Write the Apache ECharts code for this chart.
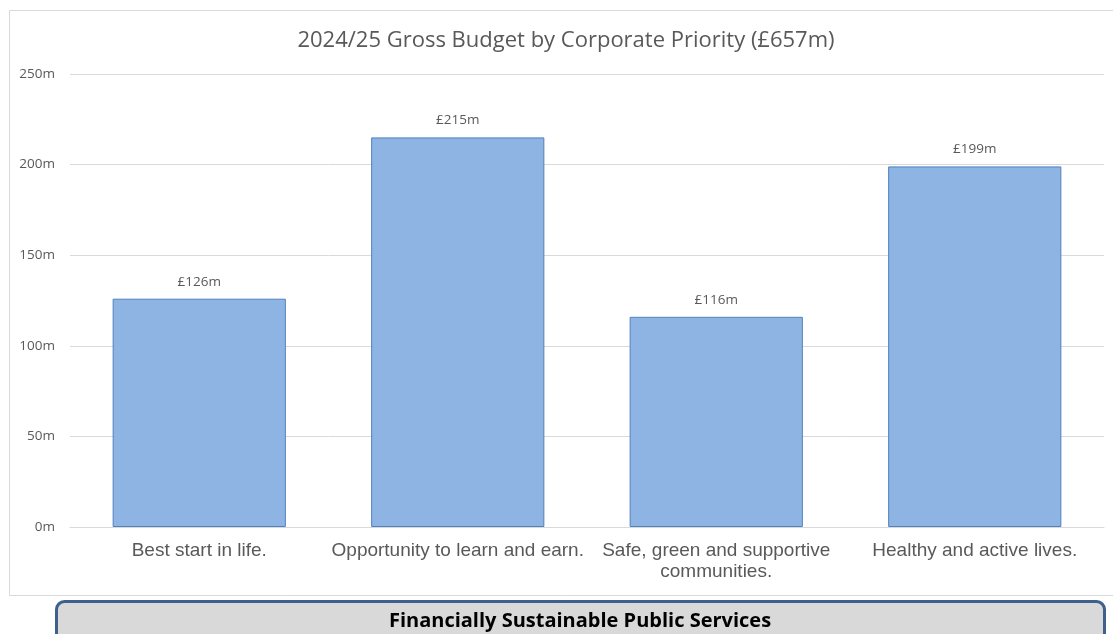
<!DOCTYPE html>
<html>
<head>
<meta charset="utf-8">
<script src="https://cdn.jsdelivr.net/npm/echarts@6/dist/echarts.min.js"></script>
<style>
html,body{margin:0;padding:0;background:#fff;}
#main{width:1113px;height:634px;}
</style>
</head>
<body>
<div id="main"></div>
<script>
const categories = ["Best start in life.", "Opportunity to learn and earn.", "Safe, green and supportive\ncommunities.", "Healthy and active lives."];
const values = [126, 215, 116, 199];
const chartTitle = "2024/25 Gross Budget by Corporate Priority (£657m)";
const footerText = "Financially Sustainable Public Services";

const chart = echarts.init(document.getElementById('main'));
chart.setOption({
  animation: false,
  backgroundColor: '#ffffff',
  title: {
    text: chartTitle,
    left: 561, top: 25, textAlign: 'center',
    textStyle: { fontFamily: 'Open Sans', fontSize: 22, fontWeight: 'normal', color: '#595959' }
  },
  grid: { left: 70, right: 9, top: 74, bottom: 107, containLabel: false },
  xAxis: {
    type: 'category',
    data: categories,
    axisLine: { show: true, lineStyle: { color: '#d9d9d9', width: 1 } },
    axisTick: { show: false },
    axisLabel: { fontFamily: 'Liberation Sans', fontSize: 19, color: '#595959', margin: 13, lineHeight: 21, interval: 0 }
  },
  yAxis: {
    type: 'value', min: 0, max: 250, interval: 50,
    axisLine: { show: false }, axisTick: { show: false },
    splitLine: { lineStyle: { color: '#d9d9d9', width: 1 } },
    axisLabel: { formatter: v => v + 'm', fontFamily: 'Open Sans', fontSize: 13.5, color: '#595959', margin: 15 }
  },
  series: [{
    type: 'bar',
    data: values,
    barCategoryGap: '33%',
    itemStyle: { color: '#8eb4e3', borderColor: '#4f81bd', borderWidth: 1 },
    label: {
      show: true, position: 'top', distance: 10,
      formatter: p => '£' + p.value + 'm',
      fontFamily: 'Open Sans', fontSize: 13.5, color: '#595959'
    }
  }],
  graphic: [
    { type: 'rect', z: -10, silent: true,
      shape: { x: 9.5, y: 10.5, width: 1120, height: 585 },
      style: { fill: 'none', stroke: '#d9d9d9', lineWidth: 1 } },
    { type: 'rect', z: 10,
      shape: { x: 56.5, y: 601.5, width: 1048, height: 60, r: 8 },
      style: { fill: '#d9d9d9', stroke: '#3f5f8c', lineWidth: 3 } },
    { type: 'text', z: 11,
      style: { text: footerText, x: 580, y: 621, align: 'center', verticalAlign: 'middle', fill: '#000000', font: 'bold 20px "Open Sans"' } }
  ]
});
</script>
</body>
</html>
